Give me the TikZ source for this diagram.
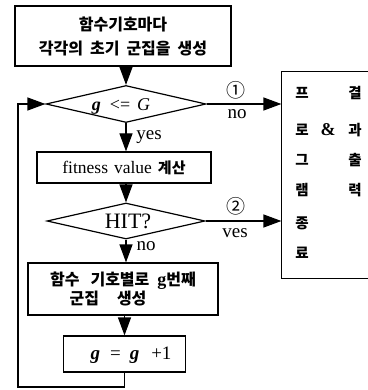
\documentclass[tikz,border=0pt]{standalone}
\usepackage{fontspec}
\setmainfont{Liberation Serif}
\newfontfamily\kr{Noto Sans CJK KR}
\usetikzlibrary{arrows.meta,shapes.geometric}

\begin{document}
\begin{tikzpicture}[x=1pt,y=-1pt,
  line width=1.2pt,
  box/.style={draw, rectangle, inner sep=0pt, align=center},
  decision/.style={draw, diamond, aspect=4.2, inner sep=0pt},
  arr/.style={-{Triangle[length=18pt,width=13pt]}},
  lbl/.style={inner sep=0pt, font=\fontsize{19}{19}\selectfont},
  circnum/.style={inner sep=0pt, font=\kr\fontsize{19}{19}\selectfont},
  krtext/.style={font=\kr\bfseries\fontsize{16}{24}\selectfont},
  cell/.style={inner sep=0pt, font=\kr\bfseries\fontsize{14.5}{14.5}\selectfont}
]
\useasboundingbox (0,0) rectangle (367,390);

% process boxes and decisions of the main column
\node[box, krtext, minimum width=216pt, minimum height=60pt] (init) at (123,36)
  {함수기호마다\\각각의\hspace{7pt}초기\hspace{7pt}군집을\hspace{7pt}생성};
\node[decision, minimum width=160pt, minimum height=37pt] (cond) at (126,104) {};
\node[inner sep=0pt, font=\fontsize{18}{18}\selectfont] (condtxt) at (121,106)
  {\textbf{\textit{g}}\hspace{9pt}<=\hspace{7pt}\textit{G}};
\node[box, minimum width=174pt, minimum height=31pt] (fit) at (124,167.5)
  {\fontsize{17.5}{17.5}\selectfont fitness\hspace{6pt}value\hspace{6pt}{\kr\bfseries\fontsize{15}{15}\selectfont 계산}};
\node[decision, minimum width=158pt, minimum height=36pt] (hit) at (126,221) {};
\node[inner sep=0pt, font=\fontsize{22}{22}\selectfont] (hittxt) at (128,221) {HIT?};
\node[box, krtext, minimum width=190pt, minimum height=52pt,
      font=\kr\bfseries\fontsize{16}{18.5}\selectfont] (gen) at (123,289)
  {함수\hspace{11pt}기호별로\hspace{8pt}{\rmfamily\bfseries\fontsize{18}{18}\selectfont g}번째\\
   군집\hspace{18pt}생성\hspace*{30pt}};
\node[box, minimum width=122pt, minimum height=36pt] (inc) at (124.5,354) {};
\node[inner sep=0pt, font=\fontsize{19}{19}\selectfont] (inctxt) at (131,355)
  {\textbf{\textit{g}}\hspace{10pt}=\hspace{9pt}\textbf{\textit{g}}\hspace{12pt}+1};

% open-ended result box on the right
\node[minimum width=85pt, minimum height=206pt, inner sep=0pt] (res) at (324.5,175) {};
\draw (res.north east) -- (res.north west) -- (res.south west) -- (res.south east);

\node[cell] (c11) at (302,93) {프};
\node[cell] (c12) at (302,130) {로};
\node[cell] (c13) at (302,160) {그};
\node[cell] (c14) at (302,190) {램};
\node[cell] (c15) at (302,223) {종};
\node[cell] (c16) at (302,253) {료};
\node[inner sep=0pt, font=\bfseries\fontsize{18}{18}\selectfont] (amp) at (328,130) {\&};
\node[cell] (c31) at (355,93) {결};
\node[cell] (c32) at (355,130) {과};
\node[cell] (c33) at (355,160) {출};
\node[cell] (c34) at (355,190) {력};

% connectors
\draw[arr] (init.south -| cond.north) -- (cond.north);
\draw[arr] (cond.south) -- (fit.north -| cond.south);
\draw[arr] (fit.south -| hit.north) -- (hit.north);
\draw[arr] (hit.south) -- (gen.north -| hit.south);
\draw[arr] (gen.south -| inc.north) -- (inc.north);
\draw[arr] (cond.east) -- (cond.east -| res.west);
\draw[arr] (hit.east) -- (hit.east -| res.west);
\coordinate (loop) at (18,387);
\draw[arr] (inc.south) |- (loop) |- (cond.west);

% branch labels
\node[lbl] (yes1) at (149,137) {yes};
\node[lbl] (no2) at (146,246) {no};
\node[circnum] (m1) at (236,90) {①};
\node[lbl] (no1) at (237,114) {no};
\node[circnum] (m2) at (236,206) {②};
\node[lbl] (yes2) at (235,233) {ves};
\end{tikzpicture}
\end{document}
